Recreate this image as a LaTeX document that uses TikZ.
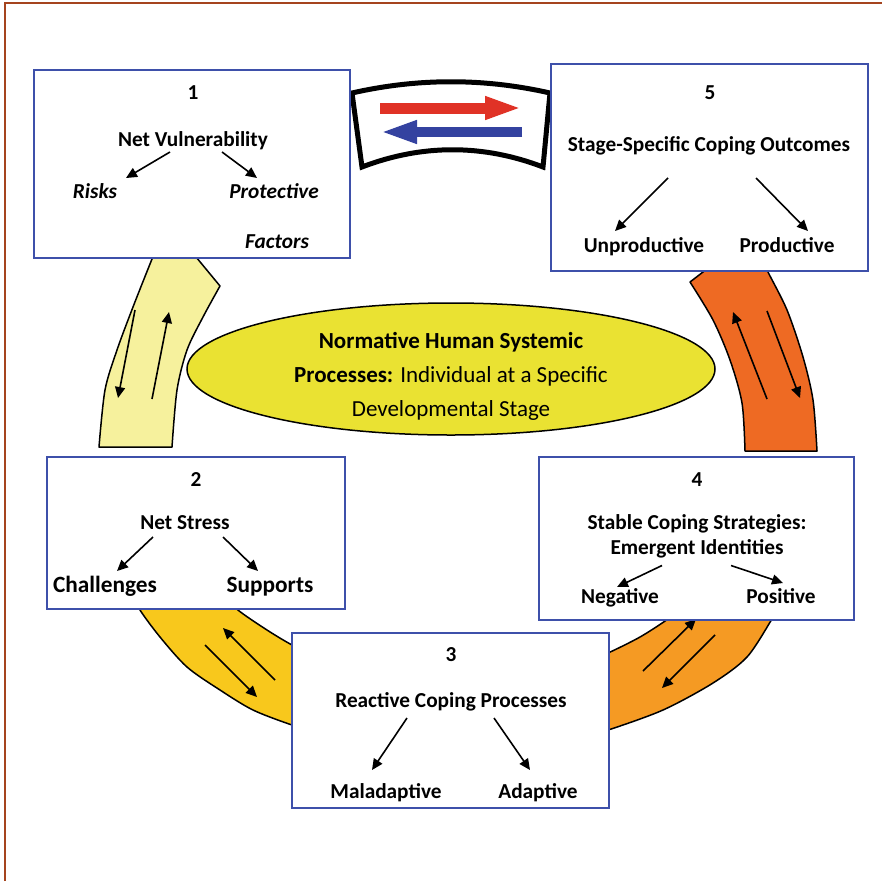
\documentclass[tikz,border=0pt]{standalone}
\usepackage{fontspec}
\setmainfont{Carlito}
\usepackage{xcolor}
\usetikzlibrary{arrows.meta,shapes.geometric}

\definecolor{boxblue}{RGB}{62,80,170}
\definecolor{framebrown}{RGB}{165,68,30}
\definecolor{bandA}{RGB}{246,241,157}
\definecolor{bandB}{RGB}{248,200,28}
\definecolor{bandC}{RGB}{245,154,35}
\definecolor{bandD}{RGB}{238,106,35}
\definecolor{hubfill}{RGB}{234,226,50}
\definecolor{flowred}{RGB}{224,50,38}
\definecolor{flowblue}{RGB}{52,66,160}

\begin{document}
\begin{tikzpicture}[x=1pt, y=1pt,
    stage/.style={draw=boxblue, fill=white, line width=1.8pt, rectangle, inner sep=0pt},
    num/.style={font=\fontsize{21.3}{25}\selectfont\bfseries, anchor=base, inner sep=0pt},
    head/.style={font=\fontsize{21.3}{25}\selectfont\bfseries, anchor=base, inner sep=0pt, align=center},
    leaf/.style={font=\fontsize{21.3}{25}\selectfont\bfseries, anchor=base, inner sep=0pt},
    leafbig/.style={leaf, font=\fontsize{23.3}{27}\selectfont\bfseries},
    leafit/.style={leaf, font=\fontsize{21.3}{25}\selectfont\bfseries\itshape},
    hub/.style={draw, ellipse, line width=1.5pt, fill=hubfill, minimum width=528pt, minimum height=132pt, inner sep=0pt},
    hubtext/.style={font=\fontsize{23}{34}\selectfont, align=center, inner sep=0pt},
    band/.style={draw=black, line width=1.5pt, line join=round},
    arrow/.style={-{Triangle[length=11pt,width=10pt]}, line width=1.6pt},
    flow/.style={-{Triangle[length=37pt,width=21pt]}}
]
    \useasboundingbox (0,0) rectangle (882,-881);

    % Ring of bands between the stages
    \filldraw[band, fill=bandA] plot[smooth] coordinates {(99,-447) (105,-390) (117,-350) (133,-307) (152,-259) (160,-240)}
        -- (182,-240) -- plot[smooth] coordinates {(220,-286) (203,-317) (187,-350) (177,-390) (172,-447)} -- cycle;
    \filldraw[band, fill=bandB] plot[smooth] coordinates {(136,-598) (140,-610) (160,-637) (187,-667) (220,-690) (253,-710) (292,-725) (315,-731)}
        -- plot[smooth] coordinates {(315,-656) (292,-645) (267,-630) (238,-610) (230,-598)} -- cycle;
    \filldraw[band, fill=bandC] plot[smooth] coordinates {(585,-662) (608,-653) (640,-637) (668,-619) (678,-610)}
        -- plot[smooth] coordinates {(777,-610) (772,-619) (747,-657) (713,-683) (663,-710) (608,-730) (585,-735)} -- cycle;
    \filldraw[band, fill=bandD] plot[smooth] coordinates {(690,-282) (713,-320) (730,-360) (742,-403) (745,-451)}
        -- plot[smooth] coordinates {(817,-451) (813,-400) (803,-357) (787,-310) (768,-272) (764,-262)} -- (716,-262) -- cycle;

    % Arrows inside the bands
    \draw[arrow] (135,-310) -- (118,-398);
    \draw[arrow] (152,-399) -- (169,-312);
    \draw[arrow] (275,-680) -- (223,-628);
    \draw[arrow] (205,-645) -- (257,-697);
    \draw[arrow] (643,-671) -- (696,-619);
    \draw[arrow] (715,-635) -- (662,-688);
    \draw[arrow] (767,-399) -- (733,-312);
    \draw[arrow] (767,-311) -- (800,-398);

    % Top band with the two way flow
    \filldraw[fill=white, draw=black, line width=5pt] (352,-93) .. controls (418,-78) and (484,-78) .. (550,-93)
        -- (543,-167) .. controls (483,-144) and (422,-144) .. (362,-167) -- cycle;
    \draw[flow, flowred, line width=11pt] (380,-108) -- (522,-108);
    \draw[flow, flowblue, line width=10pt] (522,-132) -- (380,-132);

    % Centre
    \node[hub] (hub) at (451,-369) {};
    \node[hubtext] (hubtext) at (451,-376) {\textbf{Normative Human Systemic}\\\textbf{Processes:} Individual at a Specific\\Developmental Stage};

    % Stage boxes
    \node[stage, minimum width=316pt, minimum height=188pt] (box1) at (192,-164) {};
    \node[stage, minimum width=317pt, minimum height=207pt] (box5) at (709.5,-167.5) {};
    \node[stage, minimum width=298pt, minimum height=152pt] (box2) at (196,-533) {};
    \node[stage, minimum width=315pt, minimum height=163pt] (box4) at (696.5,-538.5) {};
    \node[stage, minimum width=317pt, minimum height=175pt] (box3) at (450.5,-720.5) {};

    % Stage 1
    \node[num] (n1) at (193,-99) {1};
    \node[head] (vuln) at (193,-146) {Net Vulnerability};
    \node[leafit] (risks) at (95,-198) {Risks};
    \node[leafit] (protect) at (274,-198) {Protective};
    \node[leafit] (factors) at (277,-248) {Factors};
    \draw[arrow] ([shift={(-23,-6)}]vuln.base) -- ([shift={(31,20)}]risks.base);
    \draw[arrow] ([shift={(29,-6)}]vuln.base) -- ([shift={(-17,20)}]protect.base);

    % Stage 5
    \node[num] (n5) at (710,-99) {5};
    \node[head] (outcome) at (709,-151) {Stage-Specific Coping Outcomes};
    \node[leaf] (unprod) at (644,-252) {Unproductive};
    \node[leaf] (prod) at (787,-252) {Productive};
    \draw[arrow] ([shift={(-41,-27)}]outcome.base) -- ([shift={(-29,21)}]unprod.base);
    \draw[arrow] ([shift={(47,-27)}]outcome.base) -- ([shift={(21,21)}]prod.base);

    % Stage 2
    \node[num] (n2) at (196,-486) {2};
    \node[head] (stress) at (185,-529) {Net Stress};
    \node[leafbig] (chall) at (105,-592) {Challenges};
    \node[leafbig] (supp) at (270,-592) {Supports};
    \draw[arrow] ([shift={(-32,-8)}]stress.base) -- ([shift={(12,21)}]chall.base);
    \draw[arrow] ([shift={(38,-8)}]stress.base) -- ([shift={(-12,21)}]supp.base);

    % Stage 4
    \node[num] (n4) at (697,-486) {4};
    \node[head, anchor=center] (strat) at (697,-536.5) {Stable Coping Strategies:\\Emergent Identities};
    \node[leaf] (neg) at (620,-603) {Negative};
    \node[leaf] (pos) at (781,-603) {Positive};
    \draw[arrow] ([shift={(-35,-29)}]strat.center) -- ([shift={(-3,16)}]neg.base);
    \draw[arrow] ([shift={(34,-29)}]strat.center) -- ([shift={(2,20)}]pos.base);

    % Stage 3
    \node[num] (n3) at (451,-661) {3};
    \node[head] (react) at (451,-707) {Reactive Coping Processes};
    \node[leaf] (maladapt) at (386,-798) {Maladaptive};
    \node[leaf] (adapt) at (538,-798) {Adaptive};
    \draw[arrow] ([shift={(-44,-11)}]react.base) -- ([shift={(-14,28)}]maladapt.base);
    \draw[arrow] ([shift={(43,-11)}]react.base) -- ([shift={(-8,28)}]adapt.base);

    % Frame
    \draw[framebrown, line width=2pt] (4.5,-881) -- (4.5,-3) -- (882,-3);
\end{tikzpicture}
\end{document}
